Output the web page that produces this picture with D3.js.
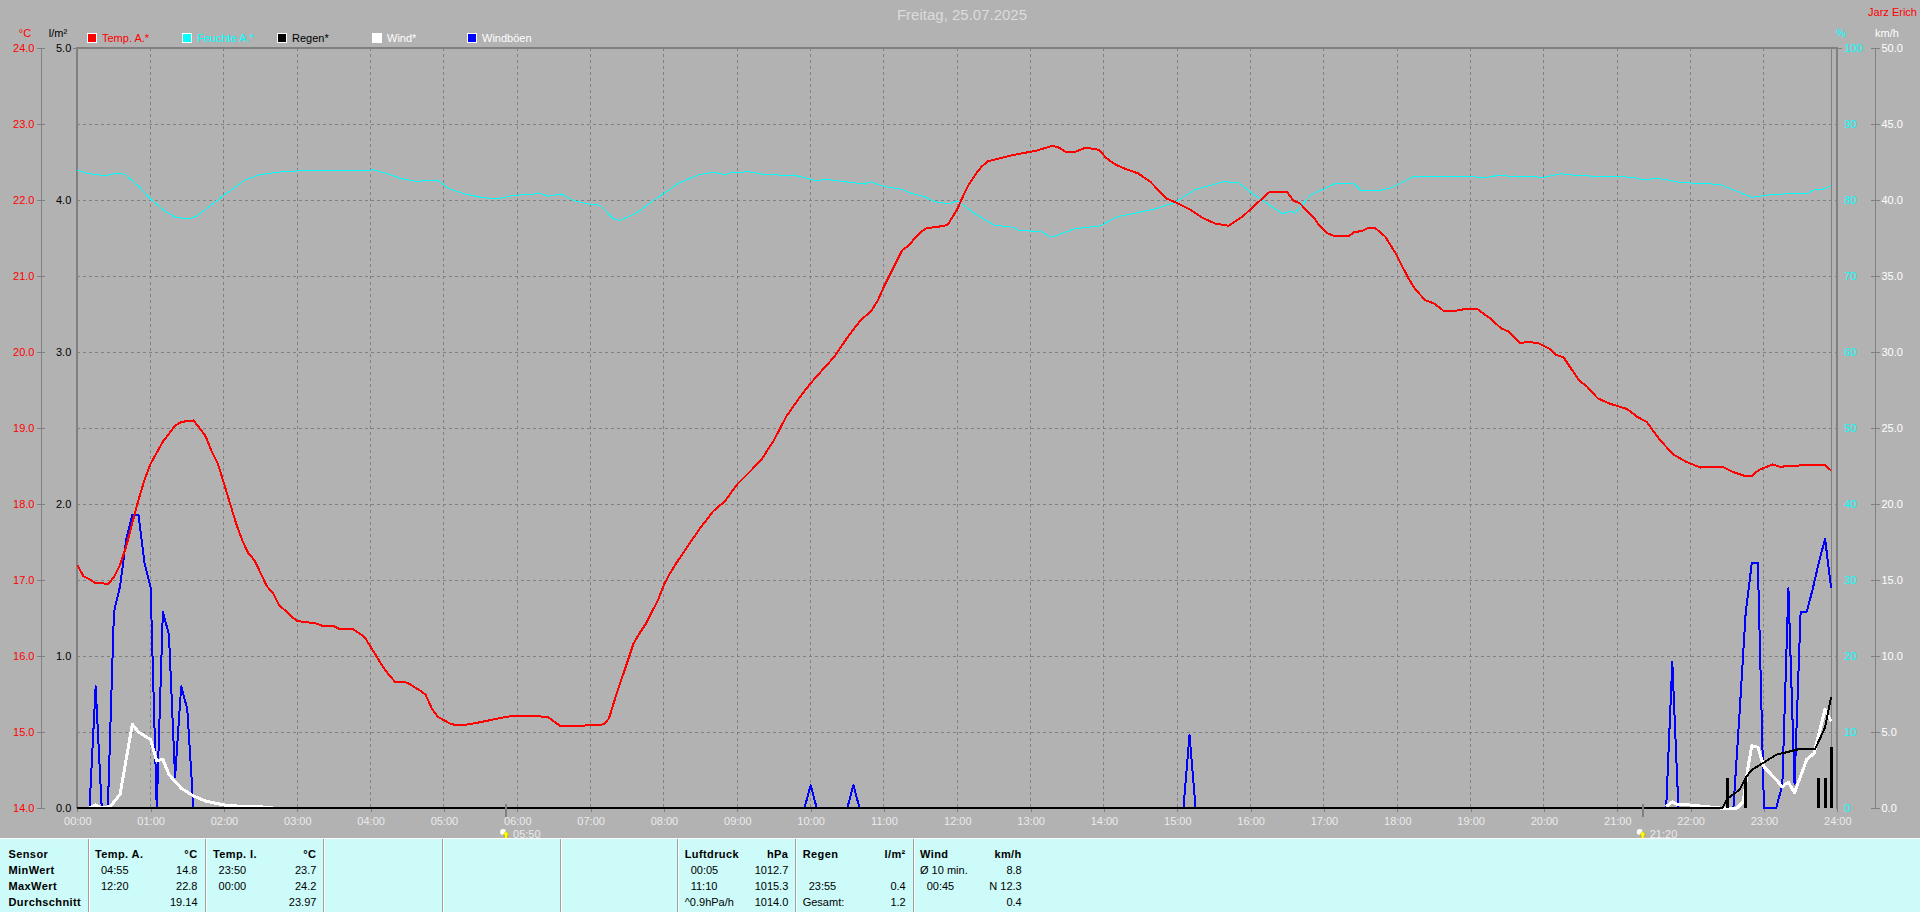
<!DOCTYPE html>
<html><head><meta charset="utf-8">
<script src="https://cdn.jsdelivr.net/npm/d3@7"></script>
<style>
html,body{margin:0;padding:0;background:#b2b2b2;overflow:hidden}
svg{display:block}
text{font-family:"Liberation Sans",Arial,sans-serif;font-size:11px}
</style></head><body>
<svg id="c" width="1920" height="912"></svg>
<script>
// [minute of day, value]
const tempOutside = [[0,17.2],[5,17.05],[10,17.01],[15,16.96],[20,16.96],[25,16.94],[30,17.04],[35,17.2],[40,17.44],[45,17.75],[50,18.05],[55,18.32],[60,18.53],[70,18.82],[80,19.03],[85,19.08],[95,19.1],[100,19],[105,18.89],[110,18.69],[115,18.53],[120,18.27],[130,17.74],[135,17.52],[140,17.35],[145,17.26],[150,17.09],[155,16.92],[160,16.83],[165,16.67],[170,16.6],[175,16.52],[180,16.46],[190,16.44],[195,16.43],[200,16.4],[210,16.39],[215,16.35],[225,16.36],[235,16.25],[240,16.12],[250,15.86],[255,15.75],[260,15.66],[270,15.65],[280,15.55],[285,15.49],[290,15.31],[295,15.2],[305,15.11],[310,15.09],[320,15.1],[330,15.13],[345,15.18],[355,15.21],[370,15.21],[385,15.2],[395,15.08],[410,15.08],[420,15.09],[431,15.1],[435,15.18],[440,15.44],[445,15.68],[450,15.92],[455,16.16],[460,16.3],[465,16.42],[470,16.58],[475,16.73],[480,16.94],[485,17.09],[490,17.22],[500,17.46],[510,17.69],[520,17.9],[530,18.04],[540,18.26],[550,18.42],[560,18.59],[570,18.84],[580,19.15],[590,19.38],[600,19.59],[610,19.77],[620,19.95],[630,20.19],[640,20.4],[650,20.55],[655,20.68],[660,20.86],[670,21.18],[675,21.34],[680,21.4],[690,21.58],[695,21.63],[705,21.65],[712,21.67],[720,21.88],[725,22.06],[730,22.22],[735,22.34],[740,22.44],[745,22.51],[755,22.55],[765,22.59],[775,22.62],[785,22.65],[797,22.71],[802,22.7],[809,22.63],[816,22.63],[825,22.69],[836,22.66],[842,22.55],[850,22.46],[859,22.4],[868,22.35],[878,22.24],[891,22.02],[900,21.96],[911,21.87],[920,21.77],[931,21.69],[942,21.66],[954,21.79],[962,21.91],[975,22.1],[990,22.1],[995,21.99],[1000,21.96],[1011,21.78],[1017,21.65],[1022,21.57],[1029,21.52],[1040,21.52],[1045,21.58],[1051,21.59],[1056,21.63],[1062,21.63],[1070,21.52],[1079,21.29],[1089,20.97],[1095,20.82],[1103,20.68],[1110,20.64],[1118,20.54],[1127,20.54],[1137,20.57],[1145,20.57],[1157,20.43],[1165,20.31],[1171,20.27],[1180,20.12],[1187,20.13],[1195,20.12],[1205,20.04],[1210,19.96],[1216,19.93],[1221,19.81],[1229,19.62],[1235,19.55],[1244,19.39],[1254,19.32],[1268,19.25],[1276,19.15],[1284,19.08],[1295,18.84],[1306,18.65],[1317,18.55],[1328,18.48],[1336,18.49],[1346,18.49],[1355,18.42],[1364,18.37],[1370,18.37],[1376,18.45],[1387,18.52],[1393,18.49],[1402,18.5],[1412,18.51],[1430,18.51],[1435,18.44]];
const humidity = [[0,83.95],[8,83.5],[23,83.2],[32,83.5],[39,83.4],[50,81.85],[60,80.1],[72,78.5],[81,77.7],[92,77.5],[98,77.9],[106,78.9],[121,80.75],[137,82.6],[149,83.3],[163,83.65],[182,83.86],[243,83.95],[255,83.4],[264,82.85],[279,82.4],[285,82.6],[295,82.55],[304,81.5],[318,80.75],[332,80.3],[344,80.15],[356,80.6],[379,80.85],[385,80.5],[396,80.8],[407,79.9],[417,79.5],[428,79.3],[438,77.6],[444,77.3],[457,78.25],[473,80.1],[492,82.2],[508,83.3],[520,83.65],[530,83.35],[536,83.65],[550,83.7],[560,83.4],[590,83.15],[604,82.55],[613,82.7],[644,82.1],[649,82.4],[661,81.75],[675,81.4],[682,80.9],[694,80.4],[701,79.8],[713,79.5],[720,79.9],[734,78.25],[750,76.7],[766,76.4],[770,76.05],[789,75.8],[797,75.1],[816,76.2],[837,76.6],[851,77.8],[865,78.25],[881,78.8],[897,79.6],[915,81.4],[938,82.4],[950,82.3],[961,80.9],[986,78.2],[993,78.55],[996,78.25],[1009,80.65],[1030,82.2],[1045,82.1],[1050,81.3],[1064,81.2],[1076,81.65],[1094,83.15],[1154,83],[1161,83.2],[1200,83],[1214,83.45],[1228,83.2],[1273,83],[1280,82.65],[1294,82.85],[1312,82.3],[1344,82.05],[1370,80.35],[1388,80.75],[1416,80.9],[1420,81.3],[1429,81.45],[1435,81.9]];
const rainTotal = [[0,0],[1346,0],[1350,0.06],[1360,0.12],[1365,0.2],[1370,0.25],[1380,0.3],[1390,0.35],[1400,0.37],[1410,0.39],[1422,0.39],[1430,0.53],[1435,0.73]];
const rainBars = [[1350,0.2],[1365,0.2],[1425,0.2],[1430,0.2],[1435,0.4]];
const wind = [[10,0],[15,0.2],[20,0],[27,0.1],[35,0.9],[45,5.5],[50,5],[60,4.5],[65,3.1],[70,3.2],[75,2.2],[85,1.3],[95,0.8],[105,0.45],[120,0.2],[135,0.1],[160,0.05],[165,null],[1295,null],[1300,0.1],[1305,0.4],[1310,0.2],[1319,0.2],[1344,0],[1358,0],[1363,0.4],[1367,2.7],[1370,4.1],[1375,4],[1380,2.7],[1385,2.3],[1395,1.4],[1400,1.7],[1405,1],[1410,2.1],[1415,3.2],[1421,3.6],[1425,4.9],[1430,6.5],[1435,5.7]];
const gusts = [[0,0],[10,0],[15,8],[20,0],[25,0],[30,12.9],[35,14.6],[40,17.65],[45,19.3],[50,19.3],[55,16.1],[60,14.5],[65,0],[70,12.9],[75,11.4],[80,2],[85,8],[90,6.5],[95,0],[595,0],[600,1.5],[605,0],[630,0],[635,1.5],[640,0],[905,0],[910,4.8],[915,0],[1300,0],[1305,9.6],[1310,0],[1355,0],[1360,6.2],[1365,12.8],[1370,16.1],[1375,16.1],[1380,0],[1390,0],[1395,1.5],[1400,14.45],[1405,1.6],[1410,12.9],[1415,12.9],[1420,14.45],[1425,16.2],[1430,17.7],[1435,14.45]];
const sunEvents = [[350,"05:50"],[1280,"21:20"]];
const hourLabels = ["00:00","01:00","02:00","03:00","04:00","05:00","06:00","07:00","08:00","09:00","10:00","11:00","12:00","13:00","14:00","15:00","16:00","17:00","18:00","19:00","20:00","21:00","22:00","23:00","24:00"];
const tempTicks = [14,15,16,17,18,19,20,21,22,23,24];
const rainTicks = [0,1,2,3,4,5];
const humTicks = [0,10,20,30,40,50,60,70,80,90,100];
const windTicks = [0,5,10,15,20,25,30,35,40,45,50];
const legendLabels = ["Temp. A.*","Feuchte A.*","Regen*","Wind*","Windböen"];
const legendColors = ["#ff0000","#00ffff","#000000","#ffffff","#0000ff"];
const legendTextColors = ["#ff0000","#00ffff","#000000","#ffffff","#ffffff"];
const sensorRows = ["Sensor","MinWert","MaxWert","Durchschnitt"];
const tableHeads = [["Temp. A.","°C"],["Temp. I.","°C"],["Luftdruck","hPa"],["Regen","l/m²"],["Wind","km/h"]];
const tableLeft = [["04:55","12:20",""],["23:50","00:00",""],["00:05","11:10","^0.9hPa/h"],["","23:55","Gesamt:"],["Ø 10 min.","00:45",""]];
const tableRight = [["14.8","22.8","19.14"],["23.7","24.2","23.97"],["1012.7","1015.3","1014.0"],["","0.4","1.2"],["8.8","N 12.3","0.4"]];

const W=1920,H=912,GRAY="#808080",BG="#b2b2b2";
const pTop=48,pBot=808,L=77.3,R=1837.3;
const svg=d3.select("#c");
svg.append("rect").attr("width",W).attr("height",H).attr("fill",BG);

const x=d3.scaleLinear().domain([0,1440]).range([L,R]);
const yT=d3.scaleLinear().domain([14,24]).range([pBot,pTop]);
const yR=d3.scaleLinear().domain([0,5]).range([pBot,pTop]);
const yH=d3.scaleLinear().domain([0,100]).range([pBot,pTop]);
const yW=d3.scaleLinear().domain([0,50]).range([pBot,pTop]);
const crisp=s=>s.attr("shape-rendering","crispEdges");

// grid
const grid=crisp(svg.append("g").attr("stroke",GRAY).attr("stroke-dasharray","3 3").attr("fill","none"));
grid.selectAll("line.v").data(d3.range(60,1440,60)).join("line").attr("class","v").attr("x1",d=>x(d)).attr("x2",d=>x(d)).attr("y1",pTop).attr("y2",pBot);
grid.selectAll("line.h").data(tempTicks.slice(1,-1)).join("line").attr("class","h").attr("x1",L).attr("x2",R).attr("y1",d=>yT(d)).attr("y2",d=>yT(d));

// frame
const frame=crisp(svg.append("g").attr("stroke",GRAY).attr("fill","none"));
frame.append("line").attr("x1",L).attr("x2",L).attr("y1",pTop-1).attr("y2",pBot).attr("stroke-width",2);
frame.append("line").attr("x1",L-1).attr("x2",R+1).attr("y1",pTop).attr("y2",pTop).attr("stroke-width",2);
frame.append("line").attr("x1",R).attr("x2",R).attr("y1",pTop-1).attr("y2",pBot+1).attr("stroke-width",2);
frame.append("line").attr("x1",x(1435)).attr("x2",x(1435)).attr("y1",pTop).attr("y2",pBot).attr("stroke-width",1);
frame.append("line").attr("x1",L-4).attr("x2",L).attr("y1",pTop).attr("y2",pTop);
frame.append("line").attr("x1",R).attr("x2",R+5).attr("y1",pTop).attr("y2",pTop);

// axes
function styleAxis(g,color){
  g.selectAll(".domain").attr("stroke",GRAY).attr("shape-rendering","crispEdges");
  g.selectAll(".tick line").attr("stroke",GRAY).attr("shape-rendering","crispEdges");
  g.selectAll("text").attr("fill",color).style("font-size","11px").style("font-family",'"Liberation Sans",Arial,sans-serif');
}
const axT=svg.append("g").attr("transform","translate(40.5,0)")
  .call(d3.axisLeft(yT).tickValues(tempTicks).tickFormat(d3.format(".1f")).tickSizeOuter(0).tickSize(4).tickPadding(2));
styleAxis(axT,"#ff0000"); axT.selectAll(".tick line").attr("x2",-4).attr("x1",4);
const axR=svg.append("g").attr("transform",`translate(${L},0)`)
  .call(d3.axisLeft(yR).tickValues(rainTicks).tickFormat(d3.format(".1f")).tickSize(0).tickPadding(6));
styleAxis(axR,"#000000"); axR.select(".domain").remove();
const axH=svg.append("g").attr("transform",`translate(${R},0)`)
  .call(d3.axisRight(yH).tickValues(humTicks).tickSize(0).tickPadding(7));
styleAxis(axH,"#00ffff"); axH.select(".domain").remove();
const axW=svg.append("g").attr("transform","translate(1874.5,0)")
  .call(d3.axisRight(yW).tickValues(windTicks).tickFormat(d3.format(".1f")).tickSizeOuter(0).tickSize(5).tickPadding(2));
styleAxis(axW,"#ffffff"); axW.selectAll(".tick line").attr("x1",-4).attr("x2",5);
const axX=svg.append("g").attr("transform",`translate(0,${pBot})`)
  .call(d3.axisBottom(x).tickValues(d3.range(0,1441,60)).tickFormat((d,i)=>hourLabels[i]).tickSizeOuter(0).tickSize(4).tickPadding(5));
styleAxis(axX,"#ebebeb"); axX.select(".domain").remove();

// axis titles
const label=(px,py,t,c,a="start",s=11,w="normal")=>svg.append("text").attr("x",px).attr("y",py).attr("fill",c).attr("text-anchor",a).style("font-size",s+"px").style("font-weight",w).text(t);
label(962,20,"Freitag, 25.07.2025","#dcdcdc","middle",15);
label(1917,16,"Jarz Erich","#ff0000","end");
label(25,37,"°C","#ff0000","middle");
label(58,37,"l/m²","#000000","middle");
label(1841,37,"%","#00ffff","middle");
label(1887,37,"km/h","#ffffff","middle");

// legend
const legendX=d3.scalePoint().domain(legendLabels).range([87,467]);
const leg=svg.append("g").selectAll("g").data(legendLabels).join("g").attr("transform",d=>`translate(${legendX(d)},33)`);
crisp(leg.append("rect").attr("x",.5).attr("y",.5).attr("width",9).attr("height",9).attr("stroke","#fff").attr("fill",(d,i)=>legendColors[i]));
leg.append("text").attr("x",15).attr("y",9).attr("fill",(d,i)=>legendTextColors[i]).text(d=>d);

// series
const lineOf=(y)=>d3.line().defined(d=>d[1]!==null).x(d=>x(d[0])).y(d=>y(d[1]));
const draw=(data,y,c,w)=>crisp(svg.append("path").datum(data).attr("fill","none").attr("stroke",c).attr("stroke-width",w).attr("stroke-linejoin","round").attr("d",lineOf(y)));
draw(humidity,yH,"#00ffff",1);
draw(gusts,yW,"#0000ff",2);
draw(tempOutside,yT,"#ff0000",2);
draw(wind,yW,"#ffffff",3);
// rain bars and cumulative rain
crisp(svg.append("g").selectAll("line").data(rainBars).join("line").attr("x1",d=>x(d[0])).attr("x2",d=>x(d[0])).attr("y1",d=>yR(d[1])).attr("y2",yR(0)).attr("stroke","#000").attr("stroke-width",3));
draw(rainTotal,yR,"#000000",2);

// sun markers
const sun=svg.append("g").selectAll("g").data(sunEvents).join("g").attr("transform",d=>`translate(${x(d[0])+1},0)`);
crisp(sun.append("line").attr("y1",pBot-4).attr("y2",pBot+9).attr("stroke",GRAY).attr("stroke-width",2));
sun.append("circle").attr("cx",-3).attr("cy",832).attr("r",3).attr("fill","#fff");
sun.append("path").attr("d","M0 831 L3 835 L1.5 835 L1.5 839 L-1.5 839 L-1.5 835 L-3 835Z").attr("fill","#ffff00").attr("stroke","#b8a000").attr("stroke-width",.5);
sun.append("text").attr("x",7).attr("y",838).attr("fill","#ebebeb").text(d=>d[1]);

// table
const tbl=svg.append("g");
crisp(tbl.append("rect").attr("x",0).attr("y",839).attr("width",W).attr("height",73).attr("fill","#ccfbf9"));
crisp(tbl.append("line").attr("x1",0).attr("x2",W).attr("y1",838.5).attr("y2",838.5).attr("stroke","#fff"));
const dividers=[88,205,323,442,560,677,795,913];
dividers.forEach(d=>{
  crisp(tbl.append("line").attr("x1",d).attr("x2",d).attr("y1",839).attr("y2",H).attr("stroke","#a0a0a0"));
  crisp(tbl.append("line").attr("x1",d+1).attr("x2",d+1).attr("y1",839).attr("y2",H).attr("stroke","#fff"));
});
const rowY=[858,874,890,906];
const cell=(px,r,t,a,b)=>tbl.append("text").attr("x",px).attr("y",rowY[r]).attr("fill","#000").attr("text-anchor",a).style("font-weight",b?"bold":"normal").style("letter-spacing",b?"0.4px":"0").text(t);
sensorRows.forEach((t,i)=>cell(8.5,i,t,"start",true));
const colHead=[95,213,684.7,802.7,920], colTime=[101,218.6,690.7,808.7,926.7], colEnd=[197.5,316.4,788.3,905.7,1021.7];
tableHeads.forEach((h,c)=>{
  cell(colHead[c],0,h[0],"start",true);
  cell(colEnd[c],0,h[1],"end",true);
  tableLeft[c].forEach((t,i)=>{
    const wide=t.length>5;
    cell(wide?colHead[c]:colTime[c],i+1,t,"start",false);
  });
  tableRight[c].forEach((t,i)=>cell(colEnd[c],i+1,t,"end",false));
});
</script></body></html>
